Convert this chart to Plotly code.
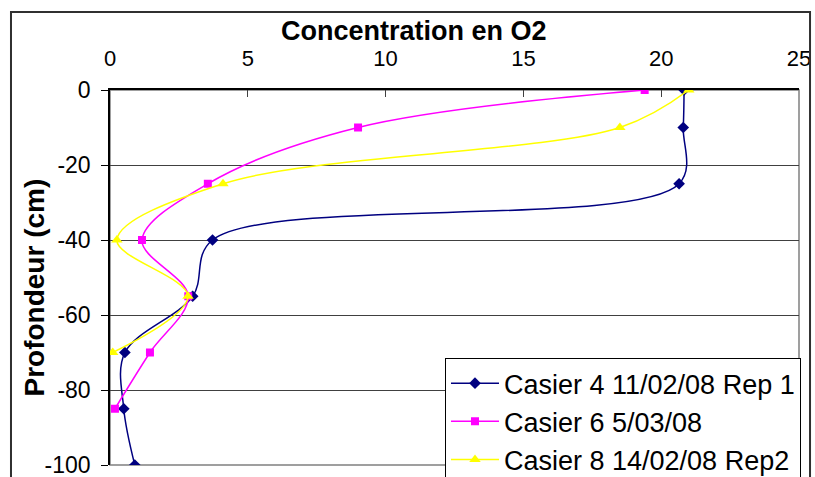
import plotly.graph_objects as go

# O2 concentration profiles versus depth
depth4 = [0, -10, -25, -40, -55, -70, -85, -100]
casier4 = [20.83, 20.8, 20.65, 3.72, 3.0, 0.54, 0.5, 0.9]

depth6 = [0, -10, -25, -40, -55, -70, -85]
casier6 = [19.4, 9.0, 3.55, 1.16, 2.84, 1.45, 0.18]

depth8 = [0, -10, -25, -40, -55, -70]
casier8 = [21.0, 18.5, 4.1, 0.25, 2.83, 0.1]

names = ["Casier 4 11/02/08 Rep 1", "Casier 6 5/03/08", "Casier 8 14/02/08 Rep2"]

x_ticks = [0, 5, 10, 15, 20, 25]
y_ticks = [0, -20, -40, -60, -80, -100]
y_ticktext = ["0", "-20", "-40", "-60", "-80", "-100"]

FONT = "Liberation Sans, Arial, sans-serif"

fig = go.Figure()
fig.add_trace(go.Scatter(
    x=casier4, y=depth4, name=names[0], mode="lines+markers",
    line=dict(color="#000080", width=1.5, shape="spline", smoothing=1),
    marker=dict(symbol="diamond", size=9, color="#000080"),
))
fig.add_trace(go.Scatter(
    x=casier6, y=depth6, name=names[1], mode="lines+markers",
    line=dict(color="#FF00FF", width=1.5, shape="spline", smoothing=1),
    marker=dict(symbol="square", size=8, color="#FF00FF"),
))
fig.add_trace(go.Scatter(
    x=casier8, y=depth8, name=names[2], mode="lines+markers",
    line=dict(color="#FFFF00", width=1.5, shape="spline", smoothing=1),
    marker=dict(symbol="triangle-up", size=10, color="#FFFF00"),
))

# plot-area frame (grey right/bottom edges)
fig.add_shape(type="rect", xref="paper", yref="paper", x0=0, x1=1, y0=0, y1=1,
              line=dict(color="#808080", width=1.5), layer="below")
# outer chart border
fig.add_shape(type="rect", xref="paper", yref="paper",
              x0=-0.1437, x1=1.0160, y0=-0.2, y1=1.208,
              line=dict(color="#303030", width=2))

fig.add_annotation(text="<b>Concentration en O2</b>", xref="paper", yref="paper",
                   x=0.441, y=1.157, xanchor="center", yanchor="middle",
                   showarrow=False, font=dict(family=FONT, size=27, color="black"))
fig.add_annotation(text="<b>Profondeur (cm)</b>", xref="paper", yref="paper",
                   x=-0.109, y=0.473, xanchor="center", yanchor="middle", textangle=-90,
                   showarrow=False, font=dict(family=FONT, size=28, color="black"))

fig.update_layout(
    width=815, height=477,
    margin=dict(l=110, r=16, t=90, b=12, autoexpand=False),
    paper_bgcolor="white", plot_bgcolor="white",
    font=dict(family=FONT, color="black"),
    showlegend=True,
    legend=dict(
        x=0.4862, y=0.2850, xanchor="left", yanchor="top",
        bgcolor="white", bordercolor="black", borderwidth=1,
        font=dict(family=FONT, size=27, color="black"),
        itemwidth=48, tracegroupgap=0,
    ),
    xaxis=dict(
        range=[0, 25], side="top", tickvals=x_ticks,
        ticks="inside", ticklen=7, tickcolor="#404040", tickwidth=1,
        showgrid=False, zeroline=False,
        showline=True, linecolor="black", linewidth=1.5,
        tickfont=dict(family=FONT, size=22, color="black"),
        ticklabelstandoff=13, ticklabeloverflow="allow",
    ),
    yaxis=dict(
        range=[-100, 0], tickvals=y_ticks, ticktext=y_ticktext,
        ticks="outside", ticklen=7, tickcolor="black", tickwidth=1,
        showgrid=True, gridcolor="#404040", gridwidth=1.2, zeroline=False,
        showline=True, linecolor="black", linewidth=1.5,
        tickfont=dict(family=FONT, size=23, color="black"),
        ticklabelstandoff=6, ticklabeloverflow="allow",
    ),
)

fig.write_html("out.html")
